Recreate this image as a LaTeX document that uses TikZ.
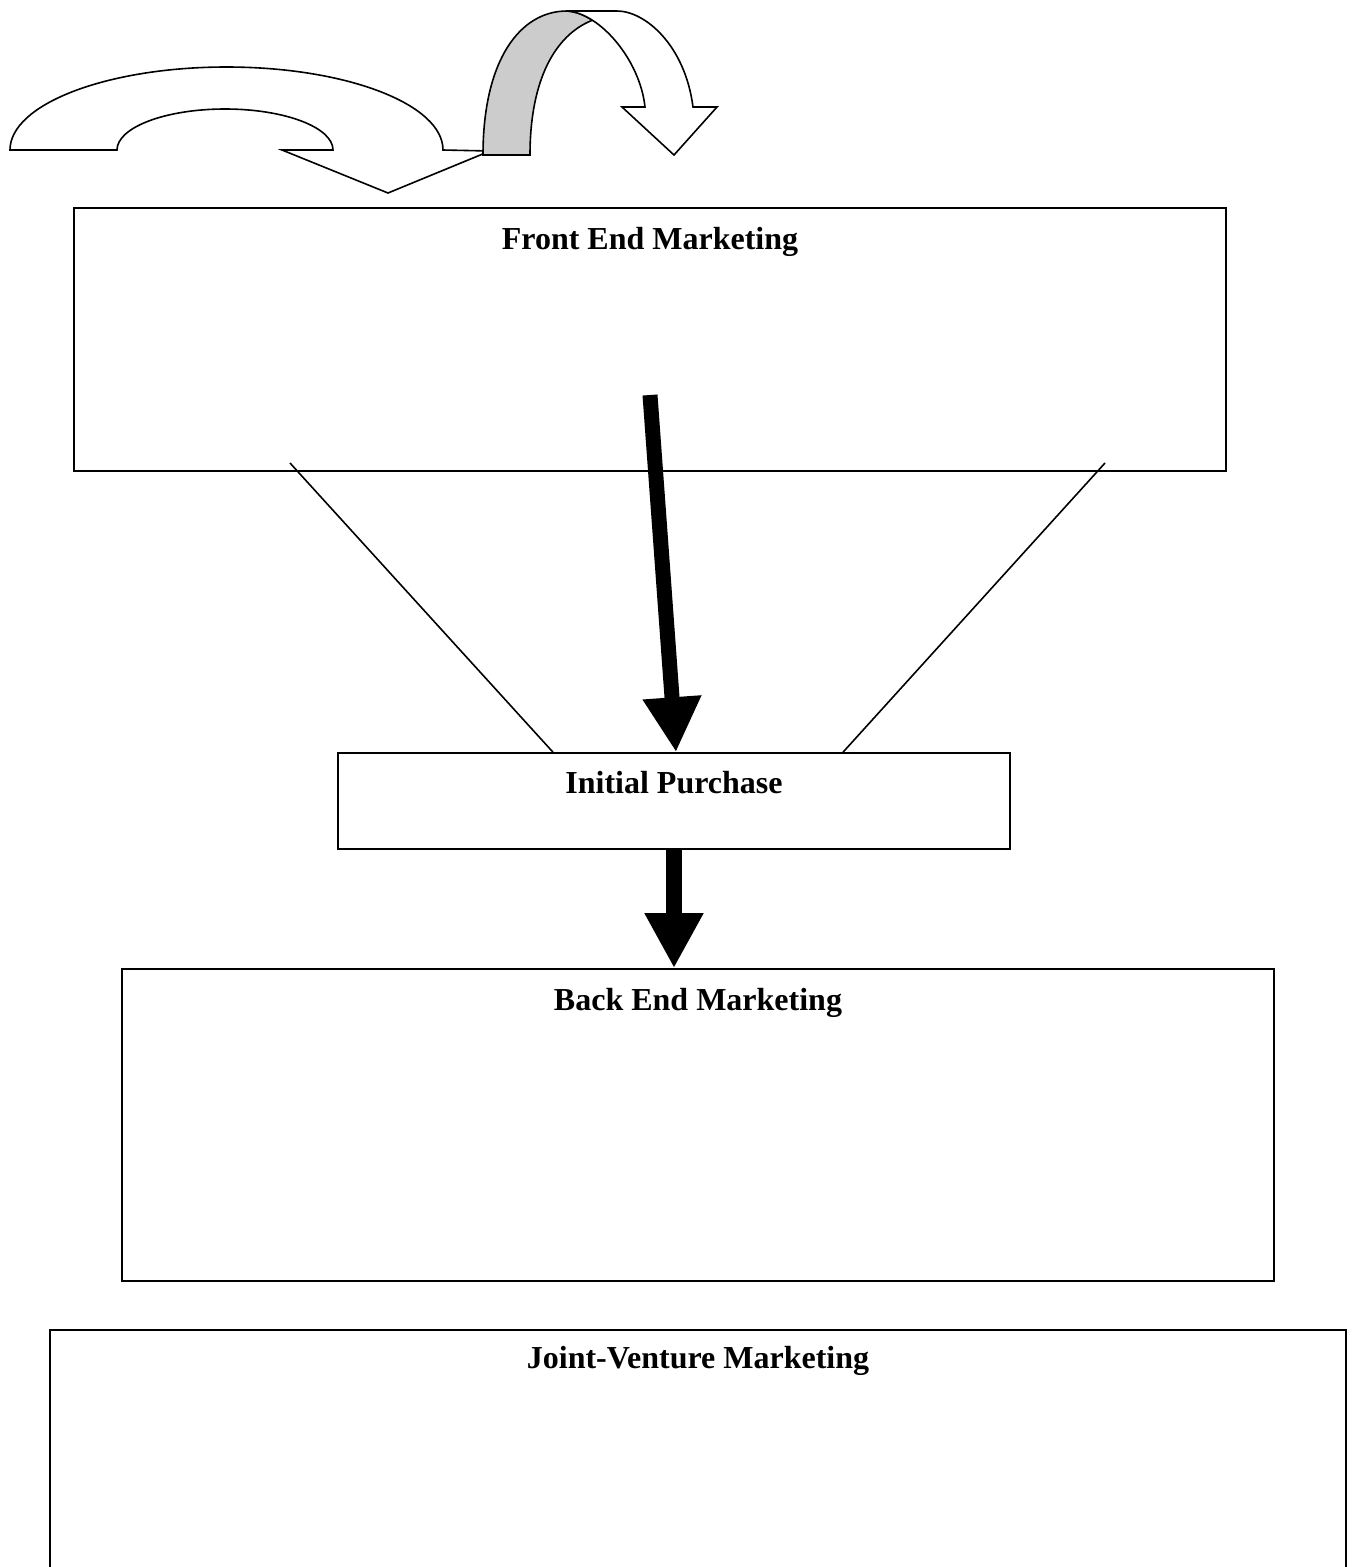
\documentclass[tikz,border=0pt]{standalone}
\usepackage{fontspec}
\setmainfont{Liberation Serif}
\usetikzlibrary{arrows.meta}
\tikzset{
  box/.style={draw, line width=1.6pt, rectangle, inner sep=0pt, fill=white},
  title/.style={anchor=base, inner sep=0pt, font=\fontsize{32}{38}\selectfont\bfseries},
  thin/.style={line width=1.6pt},
  bigarrow/.style={line width=#1, -{Triangle[width=55pt,length=55pt]}},
  outline/.style={draw, line width=1.6pt, line join=miter},
}
\begin{document}
\begin{tikzpicture}[x=1pt,y=-1pt]
\useasboundingbox (0,0) rectangle (1353,1567);
\fill[white] (0,0) rectangle (1353,1567);

% boxes
\node[box, minimum width=1152pt, minimum height=263pt] (fe) at (650,339.5) {};
\node[box, minimum width=672pt, minimum height=96pt] (ip) at (674,801) {};
\node[box, minimum width=1152pt, minimum height=312pt] (be) at (698,1125) {};
\node[box, minimum width=1296pt, minimum height=300pt] (jv) at (698,1480) {};

% titles
\node[title] (fet) at (650,249) {Front End Marketing};
\node[title] (ipt) at (674,793) {Initial Purchase};
\node[title] (bet) at (698,1010) {Back End Marketing};
\node[title] (jvt) at (698,1368) {Joint-Venture Marketing};

% funnel lines
\coordinate (fl) at (290,463);
\coordinate (fr) at (1105,463);
\draw[thin] (fl) -- ([xshift=-121pt]ip.north);
\draw[thin] (fr) -- ([xshift=169pt]ip.north);

% thick arrows
\coordinate (a1) at (650,395);
\draw[bigarrow=15pt] (a1) -- ([xshift=2pt]ip.north);
\draw[bigarrow=16pt] (ip.south) -- (ip.south |- be.north);

% left curved arrow
\draw[outline, fill=white]
  (10,150) -- (117,150)
  .. controls (117,127.4) and (165.4,109) .. (225,109)
  .. controls (284.6,109) and (333,127.4) .. (333,150)
  -- (282,150) -- (388,193) -- (490,151) -- (443,150)
  .. controls (443,104.2) and (346.1,67) .. (226.5,67)
  .. controls (106.9,67) and (10,104.2) .. (10,150) -- cycle;

% right curved arrow: back (gray) band
\draw[outline, fill=black!20]
  (483,155) .. controls (483,60) and (520,11) .. (567,11)
  .. controls (575.25,11.5) and (583.94,14.81) .. (592.4,20.2)
  .. controls (555,35) and (530,80) .. (530,155) -- cycle;
% front (white) band with head
\draw[outline, fill=white]
  (567,11) -- (617,11)
  .. controls (645,11) and (685,45) .. (693,107)
  -- (717,107) -- (674,155) -- (622,107) -- (645,107)
  .. controls (640,60) and (600,13) .. (567,11) -- cycle;
\end{tikzpicture}
\end{document}
